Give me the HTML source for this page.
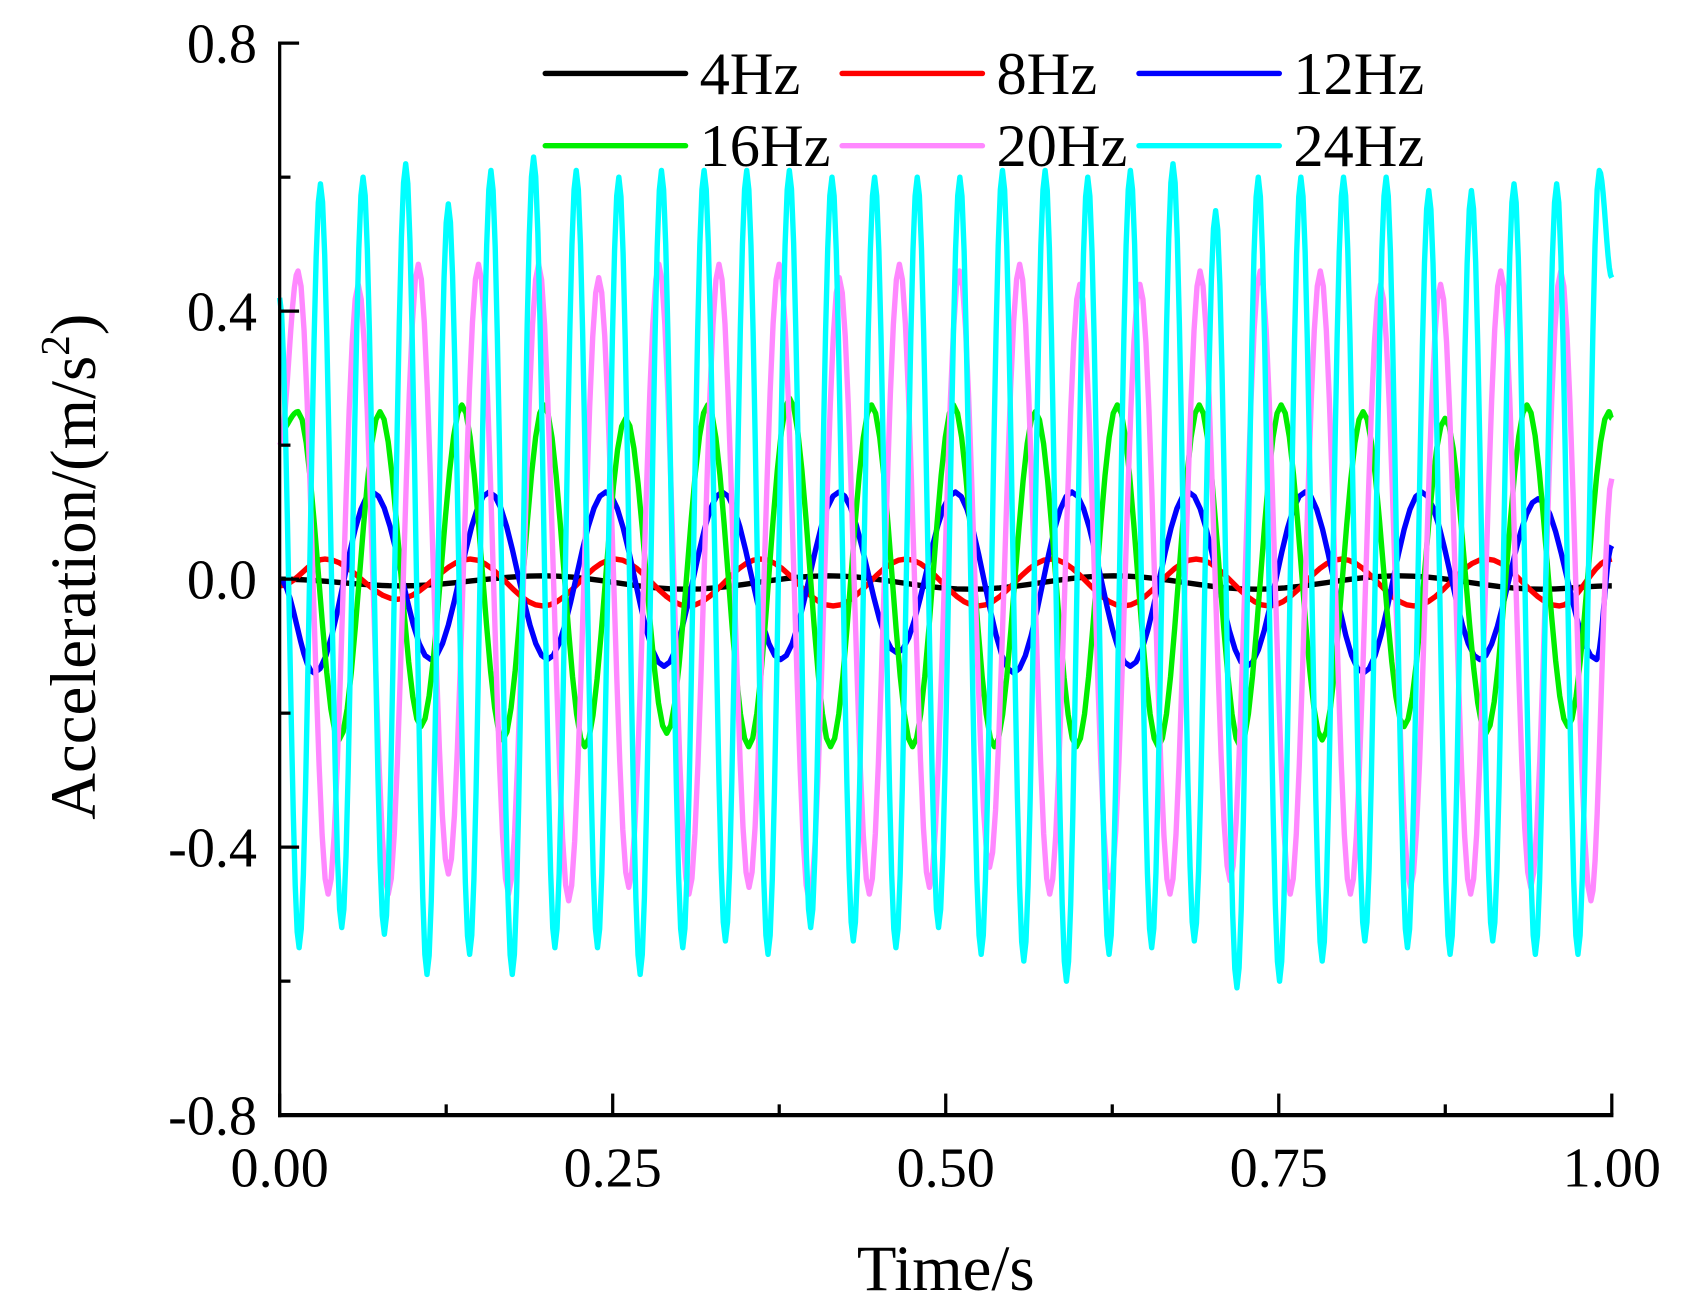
<!DOCTYPE html>
<html><head><meta charset="utf-8"><style>
html,body{margin:0;padding:0;background:#fff;}
svg{display:block;}
text{font-family:"Liberation Serif",serif;fill:#000;}
</style></head><body>
<svg id="chart" width="1695" height="1310" viewBox="0 0 1570 1213.5" xmlns="http://www.w3.org/2000/svg">
<g id="series"></g>
<g id="axes"></g>
<g id="legend"></g>
<text x="876" y="1195" font-size="60" text-anchor="middle">Time/s</text>
<text transform="translate(88,525) rotate(-90)" font-size="60" text-anchor="middle">Acceleration/(m/s<tspan font-size="38" dy="-24">2</tspan><tspan dy="24">)</tspan></text>
</svg>
<script>
const xTicks = [0, 0.25, 0.5, 0.75, 1.0];
const xTickLabels = ["0.00", "0.25", "0.50", "0.75", "1.00"];
const yTicks = [0.8, 0.4, 0.0, -0.4, -0.8];
const yTickLabels = ["0.8", "0.4", "0.0", "-0.4", "-0.8"];
const seriesNames = ["4Hz", "8Hz", "12Hz", "16Hz", "20Hz", "24Hz"];
const seriesColors = ["#000000", "#ff0000", "#0000ff", "#00ee00", "#ff88ff", "#00ffff"];
const black4 = [-0.01,0.005,-0.015,0.005,-0.015,0.005,-0.015,0.005,-0.015];
const red8 = [0.03,-0.03,0.03,-0.04,0.03,-0.04,0.03,-0.04,0.03,-0.04,0.03,-0.04,0.03,-0.04,0.03,-0.04,0.03,-0.04];
const blue12 = [-0.14,0.13,-0.12,0.13,-0.12,0.13,-0.13,0.13,-0.12,0.13,-0.11,0.13,-0.14,0.13,-0.13,0.13,-0.13,0.13,-0.14,0.13,-0.12,0.12,-0.12];
const green16 = [0.25,-0.24,0.25,-0.22,0.26,-0.24,0.26,-0.25,0.24,-0.23,0.26,-0.25,0.27,-0.25,0.26,-0.25,0.26,-0.25,0.25,-0.25,0.26,-0.25,0.26,-0.25,0.26,-0.24,0.25,-0.22,0.24,-0.23,0.26,-0.22,0.25];
const pink20 = [0.46,-0.47,0.44,-0.47,0.47,-0.44,0.47,-0.47,0.47,-0.48,0.45,-0.46,0.47,-0.47,0.47,-0.46,0.47,-0.48,0.45,-0.47,0.47,-0.46,0.46,-0.43,0.47,-0.47,0.44,-0.46,0.44,-0.47,0.46,-0.45,0.46,-0.47,0.46,-0.47,0.44,-0.46,0.44,-0.47,0.46,-0.46,0.46,-0.48];
const cyan24 = [-0.55,0.59,-0.52,0.60,-0.53,0.62,-0.59,0.56,-0.56,0.61,-0.59,0.63,-0.55,0.61,-0.55,0.60,-0.59,0.61,-0.55,0.61,-0.54,0.61,-0.56,0.61,-0.52,0.60,-0.54,0.60,-0.55,0.60,-0.52,0.60,-0.56,0.61,-0.57,0.61,-0.60,0.60,-0.56,0.61,-0.55,0.62,-0.54,0.55,-0.61,0.60,-0.60,0.60,-0.57,0.60,-0.54,0.60,-0.55,0.58,-0.56,0.58,-0.54,0.59,-0.56,0.59,-0.56,0.61];
const startValues = [0.0, -0.01, 0.0, 0.22, 0.2, 0.42];
const endValues = [-0.01, 0.03, 0.05, 0.24, 0.15, 0.45];
const firstTimes = [0.091, 0.034, 0.026, 0.0138, 0.0138, 0.0146];
const halfPeriods = [0.107, 0.0545, 0.04375, 0.03075, 0.02257, 0.016];
const seriesValues = [black4, red8, blue12, green16, pink20, cyan24];

const X0 = 259, X1 = 1493, Y0 = 40, Y1 = 1033;
const xs = t => X0 + (X1 - X0) * t;
const ys = v => Y1 - (Y1 - Y0) * (v + 0.8) / 1.6;
const NS = "http://www.w3.org/2000/svg";
function mk(tag, attrs, parent) { const e = document.createElementNS(NS, tag); for (const k in attrs) e.setAttribute(k, attrs[k]); parent.appendChild(e); return e; }

const sg = document.getElementById('series');
seriesValues.forEach((vals, i) => {
  const knots = [[0, startValues[i]]];
  vals.forEach((v, j) => { const t = firstTimes[i] + j * halfPeriods[i]; if (t < 1) knots.push([t, v]); });
  knots.push([1, endValues[i]]);
  let d = "";
  for (let k = 0; k < knots.length - 1; k++) {
    const [ta, va] = knots[k], [tb, vb] = knots[k + 1];
    const n = 10;
    for (let s = (k === 0 ? 0 : 1); s <= n; s++) {
      const f = s / n, w = (1 - Math.cos(Math.PI * f)) / 2;
      const t = ta + (tb - ta) * f, v = va + (vb - va) * w;
      d += (d ? "L" : "M") + xs(t).toFixed(2) + "," + ys(v).toFixed(2);
    }
  }
  const p = mk('path', {d: d, fill: 'none', stroke: seriesColors[i], 'stroke-width': 5, 'stroke-linejoin': 'round'}, sg);
  
  
});

const ag = document.getElementById('axes');
const yAxis = mk('line', {x1: X0, y1: Y0 - 1.5, x2: X0, y2: Y1 + 2, stroke: '#000', 'stroke-width': 3}, ag);


const xAxis = mk('line', {x1: X0 - 1.5, y1: Y1, x2: X1 + 1.5, y2: Y1, stroke: '#000', 'stroke-width': 4}, ag);


for (let k = 0; k < 9; k++) {
  const v = 0.8 - k * 0.2; const major = k % 2 === 0;
  const tk = mk('line', {x1: X0, y1: ys(v), x2: X0 + (major ? 18 : 10), y2: ys(v), stroke: '#000', 'stroke-width': 3}, ag);
  
  
}
yTicks.forEach((v, i) => {
  const t = mk('text', {x: 238, y: ys(v) + 18, 'font-size': 52, 'text-anchor': 'end'}, ag);
  t.textContent = yTickLabels[i];
  
  
});
for (let k = 0; k <= 8; k++) {
  const tv = k * 0.125; const major = k % 2 === 0;
  const tk = mk('line', {x1: xs(tv), y1: Y1, x2: xs(tv), y2: Y1 - (major ? 20 : 10), stroke: '#000', 'stroke-width': 3}, ag);
  
  
}
xTicks.forEach((v, i) => {
  const t = mk('text', {x: xs(v), y: 1099, 'font-size': 52, 'text-anchor': 'middle'}, ag);
  t.textContent = xTickLabels[i];
  
  
});

const lg = document.getElementById('legend');
const lx = [505, 780, 1055], ly = [68, 135];
seriesNames.forEach((n, i) => {
  const cx = lx[i % 3], cy = ly[Math.floor(i / 3)];
  const g = mk('g', {}, lg);
  
  
  mk('line', {x1: cx, y1: cy, x2: cx + 130, y2: cy, stroke: seriesColors[i], 'stroke-width': 5, 'stroke-linecap': 'round'}, g);
  const t = mk('text', {x: cx + 143, y: cy + 19, 'font-size': 56}, g);
  t.textContent = n;
});
</script>
</body></html>
